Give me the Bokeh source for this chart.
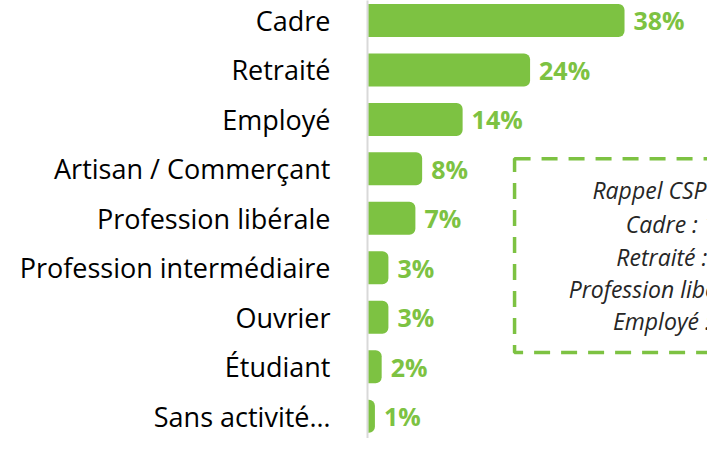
from bokeh.plotting import figure
from bokeh.models import Range1d, FixedTicker, ColumnDataSource
from bokeh.core.properties import value
from bokeh.embed import file_html
from bokeh.resources import INLINE

categories = ["Cadre", "Retraité", "Employé", "Artisan / Commerçant",
              "Profession libérale", "Profession intermédiaire", "Ouvrier",
              "Étudiant", "Sans activité…"]
values = [38, 24, 14, 8, 7, 3, 3, 2, 1]
labels = [f"{v}%" for v in values]

note_lines = ["Rappel CSP France", "Cadre : 18%", "Retraité : 27%",
              "Profession libérale : 4%", "Employé : 16%"]

GREEN = "#7DC242"
FONT = "Open Sans"

idx = list(range(len(categories)))
src = ColumnDataSource(dict(y=idx, v=values, lab=labels, cat=categories))

p = figure(width=707, height=438, output_backend="svg", toolbar_location=None,
           x_range=Range1d(-0.1, 50.3), y_range=Range1d(8.45, -0.403),
           min_border_left=367, min_border_right=0, min_border_top=0,
           min_border_bottom=0)
p.xaxis.visible = False
p.xgrid.visible = False
p.ygrid.visible = False
p.outline_line_color = None
p.background_fill_color = "white"
p.border_fill_color = "white"

p.hbar(y="y", left=0, right="v", height=0.667, source=src,
       fill_color=GREEN, line_color=None, border_radius=(0, 6, 6, 0))
p.text(x="v", y="y", text="lab", source=src, x_offset=9,
       text_font=value(FONT), text_font_style="bold", text_font_size="25px",
       text_color=GREEN, text_baseline="middle", text_align="left")

# dashed reminder box
p.quad(left=[21.7], right=[60], top=[2.795], bottom=[6.712], fill_color=None,
       line_color=GREEN, line_width=3.5, line_dash="16 11")
note_y = [3.437, 4.12, 4.783, 5.425, 6.07]
p.text(x=[47.2] * len(note_lines), y=note_y, text=note_lines,
       text_font=value(FONT), text_font_style="italic", text_font_size="23px",
       text_color="#262626", text_baseline="middle", text_align="center")

ax = p.yaxis[0]
ax.ticker = FixedTicker(ticks=idx)
ax.major_label_overrides = {i: c for i, c in zip(idx, categories)}
ax.major_label_text_font = FONT
ax.major_label_text_font_size = "27px"
ax.major_label_text_color = "#000000"
ax.major_label_standoff = 31
ax.major_tick_line_color = None
ax.minor_tick_line_color = None
ax.axis_line_color = "#d9d9d9"
ax.axis_line_width = 2

open("out.html", "w").write(file_html(p, INLINE))
